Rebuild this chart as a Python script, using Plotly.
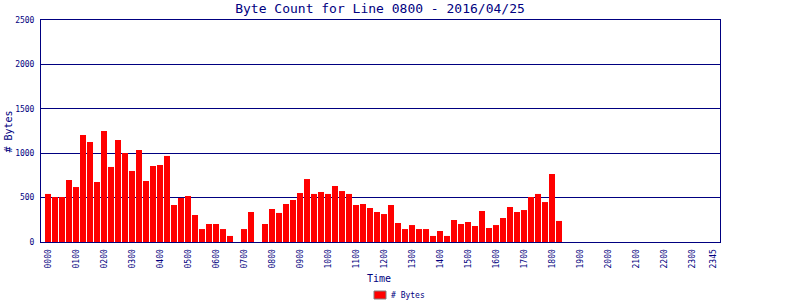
import plotly.graph_objects as go

# 15-minute time slots for the day
slots = [f"{h:02d}{m:02d}" for h in range(24) for m in (0, 15, 30, 45)]

# byte counts per slot (None = no data)
byte_counts = [
    541, 507, 507, 698, 619, 1205, 1126, 676, 1250, 845, 1149, 1002, 800, 1036, 687, 856,
    867, 969, 417, 496, 518, 304, 146, 203, 203, 146, 68, 0, 146, 338, 0, 203,
    372, 327, 428, 473, 552, 709, 541, 563, 541, 631, 574, 541, 417, 428, 383, 338,
    315, 417, 214, 146, 191, 146, 146, 68, 124, 68, 248, 203, 225, 180, 349, 158,
    191, 270, 394, 338, 360, 507, 541, 450, 766, 237, None, None, None, None, None, None,
    None, None, None, None, None, None, None, None, None, None, None, None, None, None, None, None,
]

tick_labels = ["0000", "0100", "0200", "0300", "0400", "0500", "0600", "0700", "0800",
               "0900", "1000", "1100", "1200", "1300", "1400", "1500", "1600", "1700",
               "1800", "1900", "2000", "2100", "2200", "2300", "2345"]
y_ticks = [0, 500, 1000, 1500, 2000, 2500]

NAVY = "#000080"
FONT = "DejaVu Sans Mono"
L, T, W, H = 41, 20, 679, 222  # plot area in pixels


def px_x(x):
    return (x - L) / W


def px_y(y):
    return (T + H - y) / H


fig = go.Figure()
fig.add_trace(go.Bar(
    x=slots, y=byte_counts, name="# Bytes", showlegend=False,
    marker=dict(color="#ff0000", line=dict(width=0)),
))

fig.update_layout(
    width=800, height=300,
    margin=dict(l=L, r=800 - L - W, t=T, b=300 - T - H, autoexpand=False),
    plot_bgcolor="white", paper_bgcolor="white",
    bargap=1/7,
    font=dict(family=FONT, color=NAVY, size=8),
    title=dict(text="Byte Count for Line 0800 - 2016/04/25", x=380 / 800, xanchor="center",
               y=1 - 8.5 / 300, yanchor="middle", font=dict(family=FONT, size=13, color=NAVY)),
    showlegend=False,
    xaxis=dict(type="category", categoryorder="array", categoryarray=slots,
               range=[-1, 96], tickmode="array", tickvals=tick_labels, ticktext=tick_labels,
               tickangle=-90, showgrid=False, showline=True, linecolor=NAVY, linewidth=1,
               mirror=True, ticks="", ticklabelstandoff=3, automargin=False,
               tickfont=dict(family=FONT, size=8, color=NAVY)),
    yaxis=dict(range=[0, 2500], tickvals=y_ticks, showgrid=True, gridcolor=NAVY, gridwidth=1,
               showline=True, linecolor=NAVY, linewidth=1, mirror=True, zeroline=False,
               ticks="", ticklabelstandoff=4, automargin=False,
               tickfont=dict(family=FONT, size=8, color=NAVY)),
    shapes=[
        dict(type="rect", xref="paper", yref="paper",
             x0=px_x(374), x1=px_x(386), y0=px_y(299), y1=px_y(291),
             fillcolor="#ff0000", line=dict(color="#808080", width=1)),
    ],
    annotations=[
        dict(text="# Bytes", xref="paper", yref="paper", x=px_x(7.5), y=px_y(132),
             textangle=-90, showarrow=False, xanchor="center", yanchor="middle",
             font=dict(family=FONT, size=10, color=NAVY)),
        dict(text="Time", xref="paper", yref="paper", x=px_x(379), y=px_y(278),
             showarrow=False, xanchor="center", yanchor="middle",
             font=dict(family=FONT, size=10, color=NAVY)),
        dict(text="# Bytes", xref="paper", yref="paper", x=px_x(389), y=px_y(295),
             showarrow=False, xanchor="left", yanchor="middle",
             font=dict(family=FONT, size=8, color=NAVY)),
    ],
)

fig.write_html("out.html")
